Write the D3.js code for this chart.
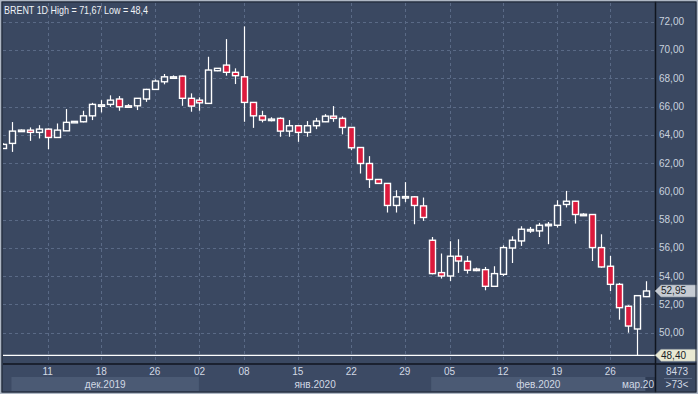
<!DOCTYPE html>
<html>
<head>
<meta charset="utf-8">
<script src="https://cdn.jsdelivr.net/npm/d3@7"></script>
<style>
  body { margin: 0; background: #3a4861; }
  svg { display: block; font-family: "Liberation Sans", Arial, sans-serif; }
</style>
</head>
<body>
<div id="chartDiv"></div>
<script>
// BRENT 1D candles, one per session
var opens  = [63.03, 63.39, 64.30, 64.33, 64.17, 64.40, 63.81, 64.28, 64.90, 64.92,
              65.34, 66.08, 66.15, 66.53, 66.05, 66.05, 66.53, 67.21, 67.75, 68.05,
              68.15, 66.58, 66.45, 66.22, 68.53, 68.93, 68.42, 68.10, 66.29, 65.34,
              65.08, 65.16, 64.26, 64.64, 64.17, 64.64, 64.92, 65.32, 65.16, 64.52,
              63.10, 61.97, 60.84, 60.56, 59.00, 59.60, 59.61, 58.97, 56.54, 54.25,
              54.01, 55.41, 55.05, 54.50, 54.46, 53.28, 54.13, 55.99, 56.49, 57.23,
              57.20, 57.61, 57.60, 59.07, 59.30, 58.36, 58.36, 56.02, 54.70, 53.42,
              51.87, 50.26, 52.55];
var highs  = [63.40, 64.90, 64.38, 64.52, 64.68, 64.45, 64.80, 65.82, 64.97, 65.70,
              66.26, 66.45, 66.79, 66.74, 66.17, 66.60, 67.25, 67.92, 68.30, 68.20,
              68.18, 66.93, 66.65, 69.52, 68.72, 70.77, 68.70, 71.67, 66.30, 65.70,
              65.24, 65.23, 65.04, 64.66, 64.97, 65.20, 65.46, 66.03, 65.30, 64.55,
              63.10, 62.49, 60.86, 60.58, 60.08, 60.65, 59.65, 59.56, 56.77, 55.60,
              56.47, 56.61, 55.43, 54.60, 54.65, 54.70, 56.18, 56.82, 57.53, 57.48,
              57.77, 57.83, 59.37, 60.03, 59.32, 58.45, 58.38, 56.96, 55.43, 53.52,
              51.94, 52.65, 53.64];
var lows   = [63.00, 62.79, 64.22, 63.57, 63.74, 62.98, 63.80, 64.28, 64.88, 64.88,
              65.04, 65.58, 65.98, 65.70, 65.91, 65.75, 66.33, 67.20, 67.57, 67.95,
              66.05, 65.63, 65.70, 66.20, 68.50, 68.18, 67.59, 64.92, 64.49, 64.88,
              64.95, 63.86, 63.86, 63.50, 63.86, 64.40, 64.90, 64.92, 64.03, 62.91,
              61.26, 60.24, 60.54, 58.50, 58.50, 59.23, 57.67, 57.91, 54.13, 53.83,
              53.66, 54.23, 54.18, 54.35, 53.00, 53.23, 54.01, 54.93, 56.14, 57.06,
              56.77, 56.26, 57.44, 58.86, 57.72, 58.28, 55.07, 54.60, 52.95, 50.92,
              50.00, 48.40, 52.52];
var closes = [63.32, 64.26, 64.33, 64.17, 64.40, 63.81, 64.33, 64.88, 64.95, 65.34,
              66.15, 66.12, 66.45, 65.98, 66.00, 66.58, 67.21, 67.80, 68.10, 68.10,
              66.58, 66.03, 66.26, 68.58, 68.70, 68.42, 68.18, 66.29, 65.34, 65.04,
              65.11, 64.26, 64.64, 64.17, 64.64, 64.97, 65.32, 65.16, 64.52, 63.08,
              61.97, 60.84, 60.56, 59.00, 59.61, 59.63, 59.00, 58.15, 54.18, 54.01,
              55.41, 55.07, 54.42, 54.47, 53.28, 54.18, 56.02, 56.54, 57.32, 57.30,
              57.60, 57.67, 59.00, 59.30, 58.36, 58.38, 56.02, 54.65, 53.42, 51.77,
              50.47, 52.62, 52.95];

var priceTicks = [50, 52, 54, 56, 58, 60, 62, 64, 66, 68, 70, 72];
var dayTickIdx = [5, 11, 17, 22, 27, 33, 39, 45, 50, 56, 62, 68];
var dayTickLabels = ["11", "18", "26", "02", "08", "15", "22", "29", "05", "12", "19", "26"];
var monthStartIdx = [1, 22, 48, 72];
var monthLabels = ["дек.2019", "янв.2020", "фев.2020", "мар.20"];
var lastClose = 52.95, lowValue = 48.40, highValue = 71.67;

var W = 698, H = 394;
var plotL = 3, plotR = 655, plotT = 3, plotB = 364;

var svg = d3.select("#chartDiv").append("svg")
    .attr("width", W)
    .attr("height", H);

var x = d3.scaleLinear().domain([0, opens.length - 1]).range([3, 646]);
var y = d3.scaleLinear().domain([lowValue, 72]).range([355.3, 21.7]);
var fmt = function (v) { return v.toFixed(2).replace(".", ","); };

// backgrounds
svg.append("rect").attr("width", W).attr("height", H).attr("fill", "#3a4861");
svg.append("rect").attr("x", plotL).attr("y", plotB).attr("width", plotR - plotL).attr("height", H - plotB)
    .attr("fill", "#3c4a64");

var defs = svg.append("defs");
defs.append("clipPath").attr("id", "plotClip")
    .append("rect").attr("x", plotL).attr("y", plotT).attr("width", plotR - plotL).attr("height", H - plotT);

// month band
var band = svg.append("g").attr("clip-path", "url(#plotClip)");
monthStartIdx.forEach(function (s, k) {
    var x0 = x(s) - 0.5;
    var x1 = k < monthStartIdx.length - 1 ? x(monthStartIdx[k + 1]) - 0.5 : plotR;
    var fill = k % 2 === 0 ? "#4b5a74" : "#3c4a64";
    if (k === monthStartIdx.length - 1) fill = "#2f3c54";
    band.append("rect").attr("x", x0).attr("y", 377).attr("width", x1 - x0).attr("height", 14).attr("fill", fill);
});
monthStartIdx.forEach(function (s, k) {
    var x0 = x(s) - 0.5;
    var x1 = k < monthStartIdx.length - 1 ? x(monthStartIdx[k + 1]) - 0.5 : plotR;
    var last = k === monthStartIdx.length - 1;
    band.append("text").attr("x", last ? plotR - 1 : (x0 + x1) / 2).attr("y", 387.5)
        .attr("text-anchor", last ? "end" : "middle").attr("font-size", 10).attr("fill", "#d2d9e4")
        .text(monthLabels[k]);
});

// grid
var grid = svg.append("g").attr("stroke", "#5a6a86").attr("stroke-width", 1).attr("stroke-dasharray", "3,3");
grid.selectAll("line.h").data(priceTicks).enter().append("line")
    .attr("x1", plotL).attr("x2", plotR)
    .attr("y1", function (d) { return Math.round(y(d)) + 0.5; })
    .attr("y2", function (d) { return Math.round(y(d)) + 0.5; });
grid.selectAll("line.v").data(dayTickIdx).enter().append("line")
    .attr("y1", plotT).attr("y2", plotB)
    .attr("x1", function (d) { return Math.round(x(d)) + 0.5; })
    .attr("x2", function (d) { return Math.round(x(d)) + 0.5; });

// low level line
svg.append("line").attr("x1", plotL).attr("x2", plotR)
    .attr("y1", y(lowValue)).attr("y2", y(lowValue))
    .attr("stroke", "#ffffff").attr("stroke-width", 1.2);

// candles
var idx = d3.range(opens.length);
var candles = svg.append("g").attr("clip-path", "url(#plotClip)");
candles.selectAll("line.wick").data(idx).enter().append("line")
    .attr("x1", function (i) { return Math.round(x(i)) + 0.5; })
    .attr("x2", function (i) { return Math.round(x(i)) + 0.5; })
    .attr("y1", function (i) { return y(highs[i]); })
    .attr("y2", function (i) { return y(lows[i]); })
    .attr("stroke", "#ffffff").attr("stroke-width", 1.2);
candles.selectAll("rect.body").data(idx).enter().append("rect")
    .attr("x", function (i) { return Math.round(x(i)) + 0.5 - 3; })
    .attr("width", 6)
    .attr("y", function (i) { return y(Math.max(opens[i], closes[i])); })
    .attr("height", function (i) { return Math.max(1.5, Math.abs(y(opens[i]) - y(closes[i]))); })
    .attr("fill", function (i) { return closes[i] < opens[i] ? "#dc1a3c" : "#3a4861"; })
    .attr("stroke", "#ffffff").attr("stroke-width", 1.4);

// separators
svg.append("line").attr("x1", plotL).attr("x2", W).attr("y1", plotB).attr("y2", plotB)
    .attr("stroke", "#10151f").attr("stroke-width", 1.5);
svg.append("line").attr("x1", plotR + 0.5).attr("x2", plotR + 0.5).attr("y1", 0).attr("y2", H)
    .attr("stroke", "#10151f").attr("stroke-width", 1.5);

// right axis labels
svg.append("g").selectAll("text").data(priceTicks).enter().append("text")
    .attr("x", 659).attr("y", function (d) { return y(d) + 3.5; })
    .attr("font-size", 10).attr("fill", "#c9d2de")
    .text(fmt);

// price tags
function tag(v, fill) {
    var yy = y(v);
    svg.append("path")
        .attr("d", "M655," + yy + " L661," + (yy - 6) + " L698," + (yy - 6) + " L698," + (yy + 6) + " L661," + (yy + 6) + " Z")
        .attr("fill", fill).attr("stroke", "#8a93a0").attr("stroke-width", 0.6);
    svg.append("text").attr("x", 661).attr("y", yy + 3.5)
        .attr("font-size", 10).attr("fill", "#1a1f28").text(fmt(v));
}
tag(lastClose, "#c6cbd3");
tag(lowValue, "#e9e9d2");

// bottom axis day labels
svg.append("g").selectAll("text").data(dayTickIdx).enter().append("text")
    .attr("x", function (d) { return x(d); }).attr("y", 375)
    .attr("text-anchor", "middle").attr("font-size", 10).attr("fill", "#d2d9e4")
    .text(function (d, k) { return dayTickLabels[k]; });

// bottom right box
svg.append("text").attr("x", 677).attr("y", 375).attr("text-anchor", "middle")
    .attr("font-size", 10).attr("fill", "#d2d9e4").text("8473");
svg.append("line").attr("x1", 664).attr("x2", 692).attr("y1", 378.5).attr("y2", 378.5)
    .attr("stroke", "#5a6a86").attr("stroke-width", 1);
svg.append("text").attr("x", 677).attr("y", 388).attr("text-anchor", "middle")
    .attr("font-size", 10).attr("fill", "#d2d9e4").text(">73<");

// title
svg.append("text").attr("x", 4).attr("y", 14)
    .attr("font-size", 11).attr("fill", "#f0f3f7")
    .attr("textLength", 144).attr("lengthAdjust", "spacingAndGlyphs")
    .text("BRENT 1D High = " + fmt(highValue) + " Low = 48,4");

// outer frame
svg.append("rect").attr("x", 0.75).attr("y", 0.75).attr("width", W - 1.5).attr("height", H - 1.5)
    .attr("fill", "none").attr("stroke", "#aeb7c4").attr("stroke-width", 1.5);
svg.append("rect").attr("x", 2).attr("y", 2).attr("width", W - 4).attr("height", H - 4)
    .attr("fill", "none").attr("stroke", "#1c2433").attr("stroke-width", 1);
</script>
</body>
</html>
